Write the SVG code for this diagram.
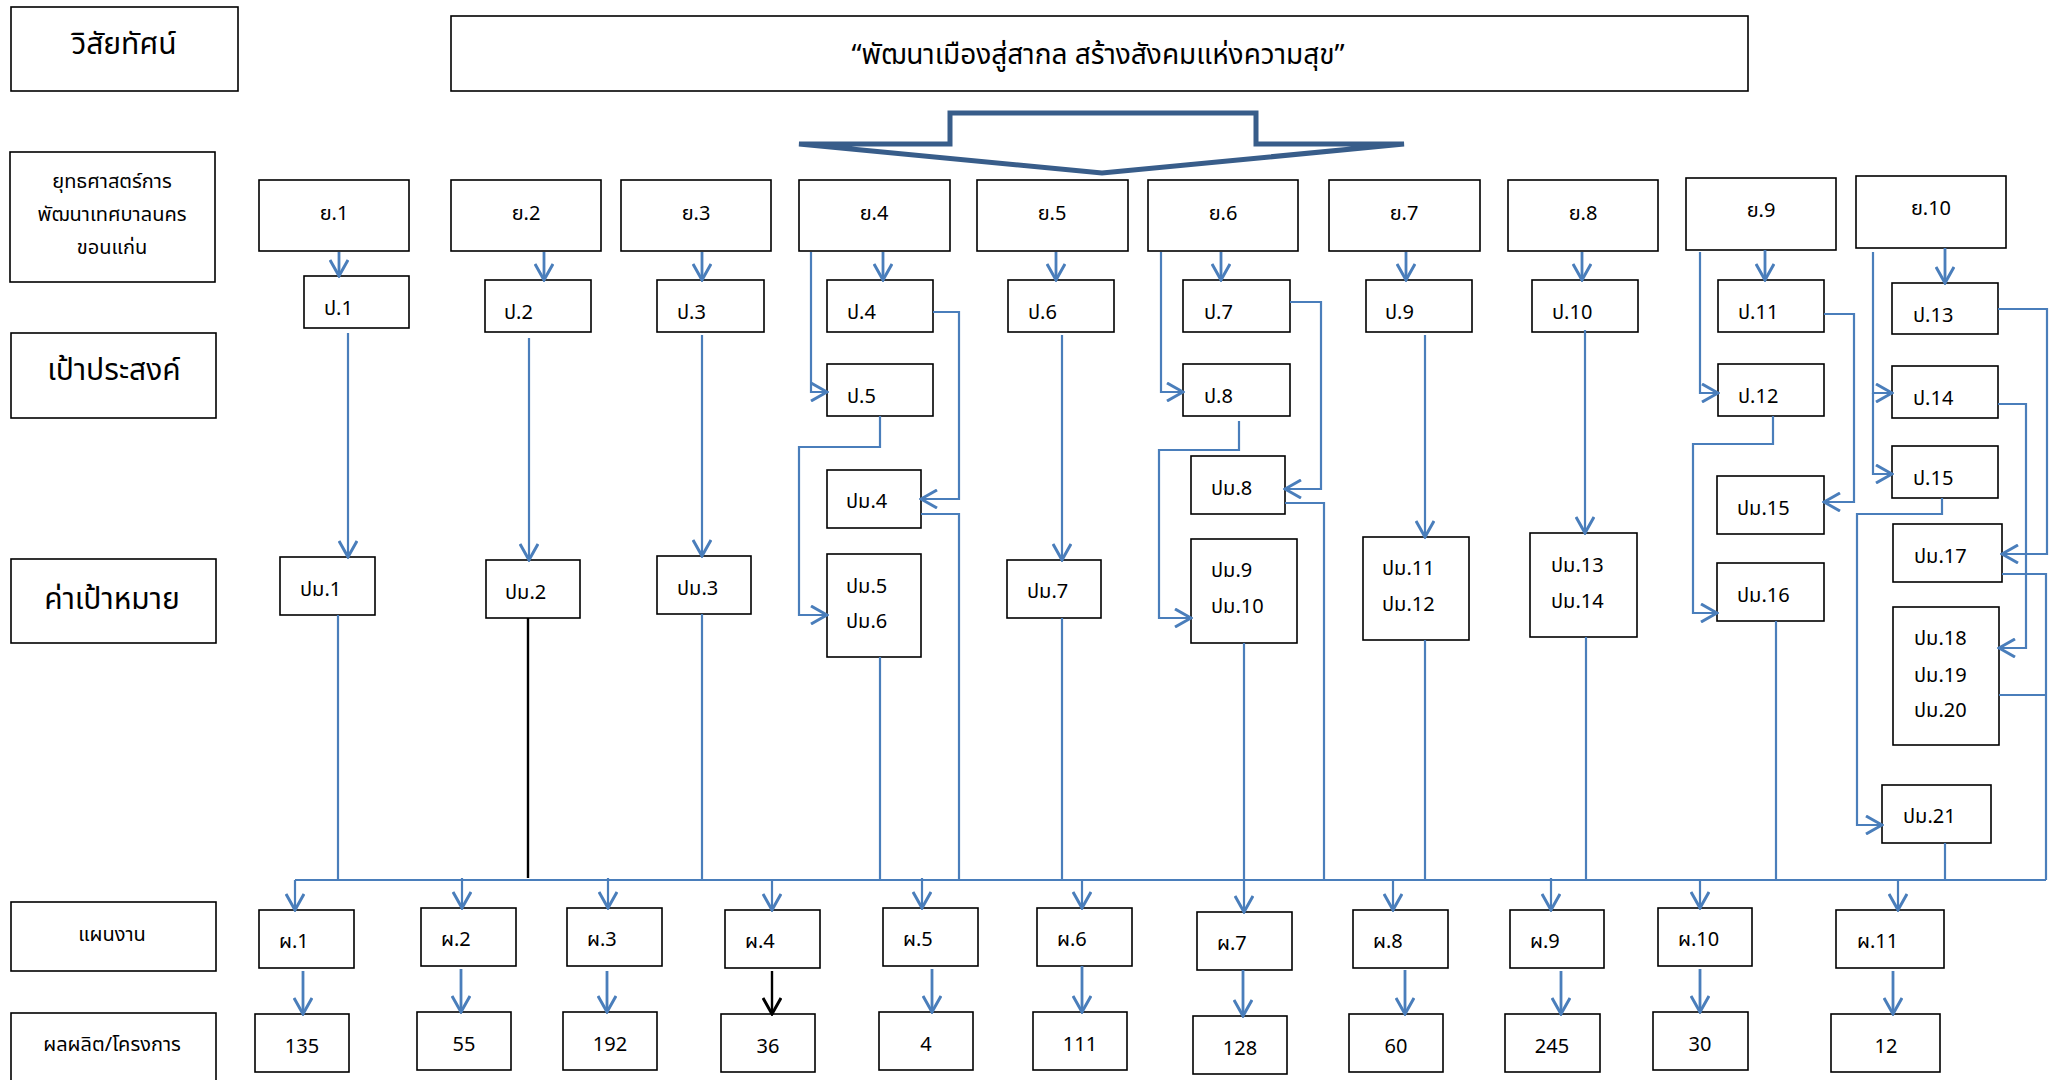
<svg xmlns="http://www.w3.org/2000/svg" width="2060" height="1080" viewBox="0 0 2060 1080">
<style>
.b{fill:#fff;stroke:#000;stroke-width:1.6}
.t{font-family:'Noto Sans Thai','Noto Sans','DejaVu Sans',sans-serif;font-size:20px;fill:#000}
.m{text-anchor:middle}
.L{font-size:30px}
.c{fill:none;stroke:#4A7EBB;stroke-width:2.2}
.s{fill:none;stroke:#4A7EBB;stroke-width:2.8}
.k{fill:none;stroke:#000;stroke-width:2.4}
.ar{marker-end:url(#a)}
</style>
<defs>
<marker id="a" viewBox="0 0 20 20" refX="18" refY="10" markerWidth="20" markerHeight="20" markerUnits="userSpaceOnUse" orient="auto">
<path d="M2,1 L18,10 L2,19" fill="none" stroke="#4A7EBB" stroke-width="3"/>
</marker>
<marker id="ak" viewBox="0 0 20 20" refX="18" refY="10" markerWidth="20" markerHeight="20" markerUnits="userSpaceOnUse" orient="auto">
<path d="M2,1 L18,10 L2,19" fill="none" stroke="#000" stroke-width="3"/>
</marker>
</defs>
<rect width="2060" height="1080" fill="#fff"/>

<!-- left labels -->
<g id="lbl-vision"><rect class="b" x="11" y="7" width="227" height="84"/><text class="t m L" x="124" y="54">วิสัยทัศน์</text></g>
<g id="lbl-strategy"><rect class="b" x="10" y="152" width="205" height="130"/>
<text class="t m" x="112" y="188">ยุทธศาสตร์การ</text><text class="t m" x="112" y="221">พัฒนาเทศบาลนคร</text><text class="t m" x="112" y="254">ขอนแก่น</text></g>
<g id="lbl-goal"><rect class="b" x="11" y="333" width="205" height="85"/><text class="t m L" x="114" y="380">เป้าประสงค์</text></g>
<g id="lbl-target"><rect class="b" x="11" y="559" width="205" height="84"/><text class="t m L" x="112" y="609">ค่าเป้าหมาย</text></g>
<g id="lbl-plan"><rect class="b" x="11" y="902" width="205" height="69"/><text class="t m" x="112" y="941">แผนงาน</text></g>
<g id="lbl-output"><rect class="b" x="11" y="1013" width="205" height="72"/><text class="t m" x="112" y="1051">ผลผลิต/โครงการ</text></g>

<!-- title -->
<g id="title"><rect class="b" x="451" y="16" width="1297" height="75"/><text class="t m" style="font-size:28px" x="1098" y="64">“พัฒนาเมืองสู่สากล สร้างสังคมแห่งความสุข”</text></g>
<g id="bigarrow"><polygon points="799,144 950,144 950,113 1256,113 1256,144 1404,144 1102,173" fill="#fff" stroke="#385D8A" stroke-width="5"/></g>

<!-- strategies -->
<g id="y1"><rect class="b" x="259" y="180" width="150" height="71"/><text class="t m" x="334" y="220">ย.1</text></g>
<g id="y2"><rect class="b" x="451" y="180" width="150" height="71"/><text class="t m" x="526" y="220">ย.2</text></g>
<g id="y3"><rect class="b" x="621" y="180" width="150" height="71"/><text class="t m" x="696" y="220">ย.3</text></g>
<g id="y4"><rect class="b" x="799" y="180" width="151" height="71"/><text class="t m" x="874" y="220">ย.4</text></g>
<g id="y5"><rect class="b" x="977" y="180" width="151" height="71"/><text class="t m" x="1052" y="220">ย.5</text></g>
<g id="y6"><rect class="b" x="1148" y="180" width="150" height="71"/><text class="t m" x="1223" y="220">ย.6</text></g>
<g id="y7"><rect class="b" x="1329" y="180" width="151" height="71"/><text class="t m" x="1404" y="220">ย.7</text></g>
<g id="y8"><rect class="b" x="1508" y="180" width="150" height="71"/><text class="t m" x="1583" y="220">ย.8</text></g>
<g id="y9"><rect class="b" x="1686" y="178" width="150" height="72"/><text class="t m" x="1761" y="217">ย.9</text></g>
<g id="y10"><rect class="b" x="1856" y="176" width="150" height="72"/><text class="t m" x="1931" y="215">ย.10</text></g>

<!-- goals -->
<g id="p1"><rect class="b" x="304" y="276" width="105" height="52"/><text class="t" x="324" y="315">ป.1</text></g>
<g id="p2"><rect class="b" x="485" y="280" width="106" height="52"/><text class="t" x="504" y="319">ป.2</text></g>
<g id="p3"><rect class="b" x="657" y="280" width="107" height="52"/><text class="t" x="677" y="319">ป.3</text></g>
<g id="p4"><rect class="b" x="827" y="280" width="106" height="52"/><text class="t" x="847" y="319">ป.4</text></g>
<g id="p5"><rect class="b" x="827" y="364" width="106" height="52"/><text class="t" x="847" y="403">ป.5</text></g>
<g id="p6"><rect class="b" x="1008" y="280" width="106" height="52"/><text class="t" x="1028" y="319">ป.6</text></g>
<g id="p7"><rect class="b" x="1183" y="280" width="107" height="52"/><text class="t" x="1204" y="319">ป.7</text></g>
<g id="p8"><rect class="b" x="1183" y="364" width="107" height="52"/><text class="t" x="1204" y="403">ป.8</text></g>
<g id="p9"><rect class="b" x="1366" y="280" width="106" height="52"/><text class="t" x="1385" y="319">ป.9</text></g>
<g id="p10"><rect class="b" x="1532" y="280" width="106" height="52"/><text class="t" x="1552" y="319">ป.10</text></g>
<g id="p11"><rect class="b" x="1718" y="280" width="106" height="52"/><text class="t" x="1738" y="319">ป.11</text></g>
<g id="p12"><rect class="b" x="1718" y="364" width="106" height="52"/><text class="t" x="1738" y="403">ป.12</text></g>
<g id="p13"><rect class="b" x="1892" y="283" width="106" height="51"/><text class="t" x="1913" y="322">ป.13</text></g>
<g id="p14"><rect class="b" x="1892" y="366" width="106" height="52"/><text class="t" x="1913" y="405">ป.14</text></g>
<g id="p15"><rect class="b" x="1892" y="446" width="106" height="52"/><text class="t" x="1913" y="485">ป.15</text></g>

<!-- targets -->
<g id="pm1"><rect class="b" x="280" y="557" width="95" height="58"/><text class="t" x="300" y="596">ปม.1</text></g>
<g id="pm2"><rect class="b" x="486" y="560" width="94" height="58"/><text class="t" x="505" y="599">ปม.2</text></g>
<g id="pm3"><rect class="b" x="657" y="556" width="94" height="58"/><text class="t" x="677" y="595">ปม.3</text></g>
<g id="pm4"><rect class="b" x="827" y="470" width="94" height="58"/><text class="t" x="846" y="508">ปม.4</text></g>
<g id="pm5-6"><rect class="b" x="827" y="554" width="94" height="103"/><text class="t" x="846" y="593">ปม.5</text><text class="t" x="846" y="628">ปม.6</text></g>
<g id="pm7"><rect class="b" x="1007" y="560" width="94" height="58"/><text class="t" x="1027" y="598">ปม.7</text></g>
<g id="pm8"><rect class="b" x="1191" y="456" width="94" height="58"/><text class="t" x="1211" y="495">ปม.8</text></g>
<g id="pm9-10"><rect class="b" x="1191" y="539" width="106" height="104"/><text class="t" x="1211" y="577">ปม.9</text><text class="t" x="1211" y="613">ปม.10</text></g>
<g id="pm11-12"><rect class="b" x="1363" y="537" width="106" height="103"/><text class="t" x="1382" y="575">ปม.11</text><text class="t" x="1382" y="611">ปม.12</text></g>
<g id="pm13-14"><rect class="b" x="1530" y="533" width="107" height="104"/><text class="t" x="1551" y="572">ปม.13</text><text class="t" x="1551" y="608">ปม.14</text></g>
<g id="pm15"><rect class="b" x="1717" y="476" width="107" height="58"/><text class="t" x="1737" y="515">ปม.15</text></g>
<g id="pm16"><rect class="b" x="1717" y="563" width="107" height="58"/><text class="t" x="1737" y="602">ปม.16</text></g>
<g id="pm17"><rect class="b" x="1893" y="524" width="109" height="58"/><text class="t" x="1914" y="563">ปม.17</text></g>
<g id="pm18-20"><rect class="b" x="1893" y="607" width="106" height="138"/><text class="t" x="1914" y="645">ปม.18</text><text class="t" x="1914" y="682">ปม.19</text><text class="t" x="1914" y="717">ปม.20</text></g>
<g id="pm21"><rect class="b" x="1882" y="785" width="109" height="58"/><text class="t" x="1903" y="823">ปม.21</text></g>

<!-- plans -->
<g id="ph1"><rect class="b" x="259" y="910" width="95" height="58"/><text class="t" x="279" y="948">ผ.1</text></g>
<g id="ph2"><rect class="b" x="421" y="908" width="95" height="58"/><text class="t" x="441" y="946">ผ.2</text></g>
<g id="ph3"><rect class="b" x="567" y="908" width="95" height="58"/><text class="t" x="587" y="946">ผ.3</text></g>
<g id="ph4"><rect class="b" x="725" y="910" width="95" height="58"/><text class="t" x="745" y="948">ผ.4</text></g>
<g id="ph5"><rect class="b" x="883" y="908" width="95" height="58"/><text class="t" x="903" y="946">ผ.5</text></g>
<g id="ph6"><rect class="b" x="1037" y="908" width="95" height="58"/><text class="t" x="1057" y="946">ผ.6</text></g>
<g id="ph7"><rect class="b" x="1197" y="912" width="95" height="58"/><text class="t" x="1217" y="950">ผ.7</text></g>
<g id="ph8"><rect class="b" x="1353" y="910" width="95" height="58"/><text class="t" x="1373" y="948">ผ.8</text></g>
<g id="ph9"><rect class="b" x="1510" y="910" width="94" height="58"/><text class="t" x="1530" y="948">ผ.9</text></g>
<g id="ph10"><rect class="b" x="1658" y="908" width="94" height="58"/><text class="t" x="1678" y="946">ผ.10</text></g>
<g id="ph11"><rect class="b" x="1836" y="910" width="108" height="58"/><text class="t" x="1857" y="948">ผ.11</text></g>

<!-- outputs -->
<g id="o1"><rect class="b" x="255" y="1014" width="94" height="58"/><text class="t m" x="302" y="1053">135</text></g>
<g id="o2"><rect class="b" x="417" y="1012" width="94" height="58"/><text class="t m" x="464" y="1051">55</text></g>
<g id="o3"><rect class="b" x="563" y="1012" width="94" height="58"/><text class="t m" x="610" y="1051">192</text></g>
<g id="o4"><rect class="b" x="721" y="1014" width="94" height="58"/><text class="t m" x="768" y="1053">36</text></g>
<g id="o5"><rect class="b" x="879" y="1012" width="94" height="58"/><text class="t m" x="926" y="1051">4</text></g>
<g id="o6"><rect class="b" x="1033" y="1012" width="94" height="58"/><text class="t m" x="1080" y="1051">111</text></g>
<g id="o7"><rect class="b" x="1193" y="1016" width="94" height="58"/><text class="t m" x="1240" y="1055">128</text></g>
<g id="o8"><rect class="b" x="1349" y="1014" width="94" height="58"/><text class="t m" x="1396" y="1053">60</text></g>
<g id="o9"><rect class="b" x="1505" y="1014" width="95" height="58"/><text class="t m" x="1552" y="1053">245</text></g>
<g id="o10"><rect class="b" x="1653" y="1012" width="95" height="58"/><text class="t m" x="1700" y="1051">30</text></g>
<g id="o11"><rect class="b" x="1831" y="1014" width="109" height="58"/><text class="t m" x="1886" y="1053">12</text></g>

<!-- connectors -->
<g id="connectors">
<path class="s ar" d="M339,252V276"/>
<path class="s ar" d="M544,252V280"/>
<path class="s ar" d="M702,252V280"/>
<path class="s ar" d="M883,252V280"/>
<path class="s ar" d="M1056,252V280"/>
<path class="s ar" d="M1221,252V280"/>
<path class="s ar" d="M1406,252V280"/>
<path class="s ar" d="M1582,252V280"/>
<path class="s ar" d="M1765,250V280"/>
<path class="s ar" d="M1945,248V283"/>
<path class="c ar" d="M811,252V392H827"/>
<path class="c ar" d="M1161,252V392H1183"/>
<path class="c ar" d="M1700,252V393H1718"/>
<path class="c ar" d="M1873,252V393H1892"/>
<path class="c ar" d="M1873,393V474H1892"/>

<path class="c ar" d="M348,333V557"/>
<path class="c ar" d="M529,338V560"/>
<path class="c ar" d="M702,335V556"/>
<path class="c ar" d="M1062,335V560"/>
<path class="c ar" d="M1425,335V537"/>
<path class="c ar" d="M1585,330V533"/>
<path class="c ar" d="M933,312H959V499H921"/>
<path class="c ar" d="M880,416V447H799V615H827"/>
<path class="c ar" d="M1290,302H1321V489H1285"/>
<path class="c ar" d="M1239,421V450H1159V618H1191"/>
<path class="c ar" d="M1824,314H1854V502H1824"/>
<path class="c ar" d="M1773,416V444H1693V613H1717"/>
<path class="c ar" d="M1998,309H2047V554H2002"/>
<path class="c ar" d="M1998,404H2026V648H1999"/>
<path class="c ar" d="M1942,498V514H1857V825H1882"/>

<path class="c" d="M338,615V880"/>
<path class="k" d="M528,618V878"/>
<path class="c" d="M702,614V880"/>
<path class="c" d="M880,657V880"/>
<path class="c" d="M921,514H959V880"/>
<path class="c" d="M1062,618V880"/>
<path class="c" d="M1285,503H1324V880"/>
<path class="c" d="M1425,640V880"/>
<path class="c" d="M1586,637V880"/>
<path class="c" d="M1776,621V880"/>
<path class="c" d="M2002,574H2046V880"/>
<path class="c" d="M1999,695H2046"/>
<path class="c" d="M1945,843V880"/>
<path class="c" d="M295,880H2046"/>

<path class="c ar" d="M295,880V910"/>
<path class="c ar" d="M462,878V908"/>
<path class="c ar" d="M608,878V908"/>
<path class="c ar" d="M772,880V910"/>
<path class="c ar" d="M922,878V908"/>
<path class="c ar" d="M1082,880V908"/>
<path class="c ar" d="M1244,643V912"/>
<path class="c ar" d="M1393,880V910"/>
<path class="c ar" d="M1551,878V910"/>
<path class="c ar" d="M1700,880V908"/>
<path class="c ar" d="M1898,880V910"/>

<path class="s ar" d="M303,971V1014"/>
<path class="s ar" d="M461,969V1012"/>
<path class="s ar" d="M607,971V1012"/>
<path class="k" d="M772,971V1014" marker-end="url(#ak)"/>
<path class="s ar" d="M932,969V1012"/>
<path class="s ar" d="M1082,966V1012"/>
<path class="s ar" d="M1243,970V1016"/>
<path class="s ar" d="M1405,970V1014"/>
<path class="s ar" d="M1561,971V1014"/>
<path class="s ar" d="M1700,969V1012"/>
<path class="s ar" d="M1893,971V1014"/>
</g>
</svg>
